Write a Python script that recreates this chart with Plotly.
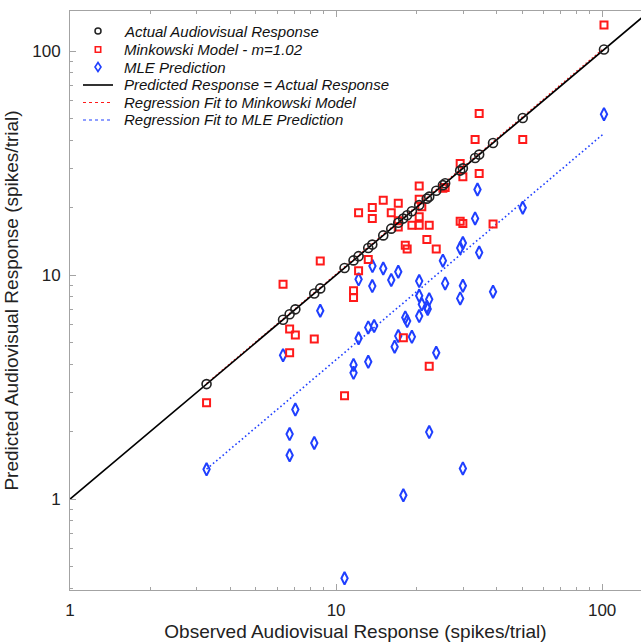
import plotly.graph_objects as go

# ---------------- data ----------------
actual_x = [3.26, 6.32, 6.69, 7.03, 8.28, 8.72, 10.76, 11.63, 12.15, 13.21,
            13.68, 15.04, 16.12, 17.13, 17.87, 18.5, 19.27, 20.53, 21.94, 22.39,
            23.79, 25.2, 25.7, 29.27, 29.96, 33.3, 34.5, 38.9, 50.3, 101.6]
actual_y = list(actual_x)  # actual response plotted against itself

mink_x = [3.26, 6.32, 6.69, 7.03, 6.69, 8.72, 8.28, 12.15, 11.63, 11.63,
          13.21, 10.76, 12.15, 13.68, 13.68, 15.04, 16.12, 17.13, 17.13, 17.13,
          19.27, 20.53, 22.39, 20.53, 20.53, 21.0, 20.53, 18.2, 18.5, 21.94,
          23.79, 25.2, 25.7, 29.27, 29.96, 29.27, 29.96, 33.3, 34.5, 34.5,
          38.9, 50.3, 101.6, 17.9, 22.39]
mink_y = [2.69, 9.09, 5.74, 5.4, 4.5, 11.55, 5.18, 10.45, 8.51, 7.95,
          11.75, 2.89, 18.97, 17.9, 20.05, 21.6, 18.97, 20.9, 16.4, 17.5,
          16.7, 16.7, 16.7, 24.97, 21.8, 20.2, 18.2, 13.6, 13.06, 14.4,
          13.06, 24.4, 24.6, 31.5, 27.5, 17.4, 17.0, 40.3, 52.7, 28.4,
          16.9, 40.3, 130.7, 5.25, 3.92]

mle_x = [8.72, 6.32, 7.03, 6.69, 8.28, 12.15, 13.68, 13.7, 15.04, 16.12,
         17.13, 12.15, 13.21, 13.9, 11.63, 11.63, 13.21, 17.13, 16.6, 3.26,
         6.69, 10.76, 17.9, 22.39, 29.96, 20.53, 25.2, 25.7, 29.96, 29.27,
         34.5, 38.9, 20.53, 21.0, 22.39, 21.94, 22.1, 20.53, 18.2, 18.5,
         19.27, 23.79, 101.6, 50.3, 34.0, 33.3, 29.96, 29.27]
mle_y = [6.93, 4.39, 2.51, 1.95, 1.78, 9.57, 8.93, 10.97, 10.7, 9.5,
         10.35, 5.22, 5.84, 5.92, 3.97, 3.66, 4.1, 5.34, 4.79, 1.357,
         1.57, 0.443, 1.04, 1.99, 1.37, 9.4, 11.6, 9.18, 8.96, 7.87,
         12.6, 8.43, 8.08, 7.4, 7.79, 7.22, 7.05, 6.56, 6.47, 6.23,
         5.3, 4.5, 52.3, 19.98, 24.1, 17.9, 13.9, 13.2]

identity_x = [1, 150]
identity_y = [1, 150]
mink_fit_x = [3.26, 101.6]
mink_fit_y = [3.28, 103.0]
mle_fit_x = [3.26, 101.6]
mle_fit_y = [1.36, 42.9]

tick_vals = [1, 10, 100]
tick_text = ["1", "10", "100"]

legend_labels = ["Actual Audiovisual Response",
                 "Minkowski Model - m=1.02",
                 "MLE Prediction",
                 "Predicted Response = Actual Response",
                 "Regression Fit to Minkowski Model",
                 "Regression Fit to MLE Prediction"]

x_title = "Observed Audiovisual Response (spikes/trial)"
y_title = "Predicted Audiovisual Response (spikes/trial)"

# ---------------- styling ----------------
W, H = 641, 642
L, R, T, B = 70, 0, 11, 52
PW, PH = W - L - R, H - T - B
FONT = "Liberation Sans, Arial, Helvetica, sans-serif"
AXC = "#a3a3a3"
RED = "#ff1a1a"
BLUE = "#1f3fff"


def px(xp):
    return (xp - L) / PW


def py(yp):
    return 1 - (yp - T) / PH


fig = go.Figure()

fig.add_trace(go.Scatter(x=mink_fit_x, y=mink_fit_y, mode="lines",
                         line=dict(color=RED, width=1.5, dash="1.5px,2.5px"),
                         hoverinfo="skip"))
fig.add_trace(go.Scatter(x=mle_fit_x, y=mle_fit_y, mode="lines",
                         line=dict(color=BLUE, width=1.6, dash="1.6px,2.6px"),
                         hoverinfo="skip"))
fig.add_trace(go.Scatter(x=mle_x, y=mle_y, mode="markers",
                         marker=dict(symbol="diamond-tall-open", size=9,
                                     color=BLUE, line=dict(width=2, color=BLUE))))
fig.add_trace(go.Scatter(x=mink_x, y=mink_y, mode="markers",
                         marker=dict(symbol="square-open", size=7,
                                     color=RED, line=dict(width=2, color=RED))))
fig.add_trace(go.Scatter(x=identity_x, y=identity_y, mode="lines",
                         line=dict(color="black", width=1.6), hoverinfo="skip"))
fig.add_trace(go.Scatter(x=actual_x, y=actual_y, mode="markers",
                         marker=dict(symbol="circle-open", size=9,
                                     color="#222", line=dict(width=1.6, color="#222"))))

# ---------------- manual legend ----------------
rows = [31, 49.5, 67, 85, 102.5, 120]
sym_x = 98
shapes = []
shapes.append(dict(type="circle", xref="paper", yref="paper",
                   x0=px(sym_x - 3), x1=px(sym_x + 3), y0=py(rows[0] + 3), y1=py(rows[0] - 3),
                   line=dict(color="#222", width=1.5)))
shapes.append(dict(type="rect", xref="paper", yref="paper",
                   x0=px(sym_x - 2.7), x1=px(sym_x + 2.7), y0=py(rows[1] + 2.7), y1=py(rows[1] - 2.7),
                   line=dict(color=RED, width=1.6)))
d_path = "M {a},{b} L {c},{d} L {e},{f} L {g},{h} Z".format(
    a=px(sym_x), b=py(rows[2] - 4.5), c=px(sym_x + 3), d=py(rows[2]),
    e=px(sym_x), f=py(rows[2] + 4.5), g=px(sym_x - 3), h=py(rows[2]))
shapes.append(dict(type="path", xref="paper", yref="paper", path=d_path,
                   line=dict(color=BLUE, width=1.6)))
line_styles = [("black", "solid", 1.6), (RED, "dot", 1.2), (BLUE, "dot", 1.2)]
for r, (c, d, w) in zip(rows[3:], line_styles):
    shapes.append(dict(type="line", xref="paper", yref="paper",
                       x0=px(83), x1=px(113), y0=py(r), y1=py(r),
                       line=dict(color=c, width=w, dash=d)))

annotations = []
for r, lab in zip(rows, legend_labels):
    annotations.append(dict(xref="paper", yref="paper", x=px(122), y=py(r),
                            xanchor="left", yanchor="middle", showarrow=False,
                            text="<i>" + lab + "</i>",
                            font=dict(family=FONT, size=15, color="#111")))

axis_common = dict(type="log", showgrid=False, zeroline=False,
                   showline=True, linecolor=AXC, linewidth=1,
                   ticks="inside", ticklen=6, tickcolor=AXC, tickwidth=1,
                   tickvals=tick_vals, ticktext=tick_text,
                   minor=dict(ticks="inside", ticklen=3, tickcolor=AXC,
                              tickwidth=1, dtick="D1"),
                   tickfont=dict(family=FONT, size=17, color="#222"))

fig.update_layout(
    width=W, height=H,
    margin=dict(l=L, r=R, t=T, b=B, autoexpand=False),
    paper_bgcolor="white", plot_bgcolor="white",
    showlegend=False,
    shapes=shapes, annotations=annotations,
    xaxis=dict(axis_common, range=[0, 2.146], mirror="ticks",
               ticklabelstandoff=5,
               title=dict(text=x_title, standoff=6,
                          font=dict(family=FONT, size=19, color="#222"))),
    yaxis=dict(axis_common, range=[-0.406, 2.179], mirror=False,
               ticklabelstandoff=5,
               title=dict(text=y_title, standoff=8,
                          font=dict(family=FONT, size=19, color="#222"))),
)

fig.write_html("out.html",
               config={"displayModeBar": False},
               post_script="document.body.style.margin='0';"
                           "document.body.style.overflow='hidden';")
